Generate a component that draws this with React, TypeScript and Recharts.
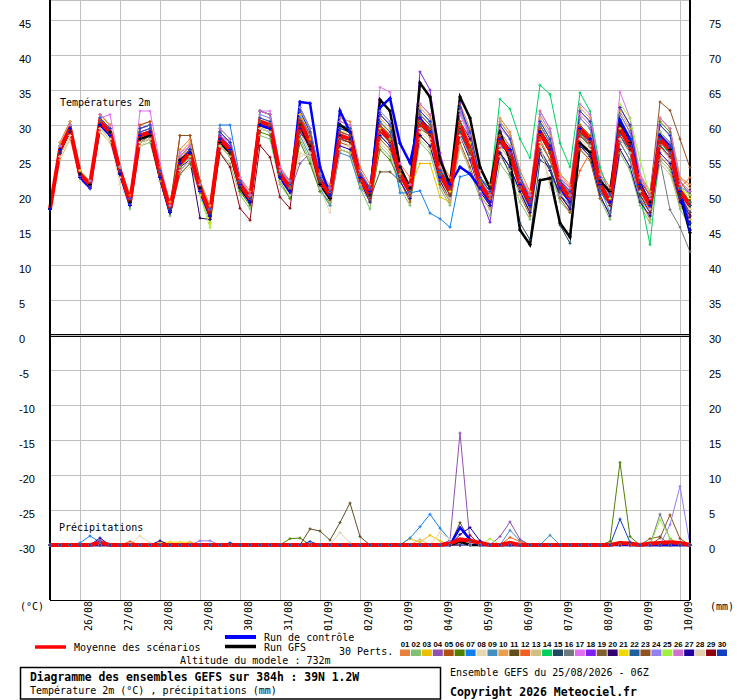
import { LineChart, Line, XAxis, YAxis, CartesianGrid, ReferenceLine } from 'recharts';

// 6-hourly steps from 25/08 06Z to 10/09 06Z (384h)
const steps = Array.from({ length: 65 }, (_, i) => i);

const dateTicks = [3, 7, 11, 15, 19, 23, 27, 31, 35, 39, 43, 47, 51, 55, 59, 63];
const dateLabels = ['26/08', '27/08', '28/08', '29/08', '30/08', '31/08', '01/09', '02/09', '03/09', '04/09', '05/09', '06/09', '07/09', '08/09', '09/09', '10/09'];
const leftTicks = [-30, -25, -20, -15, -10, -5, 0, 5, 10, 15, 20, 25, 30, 35, 40, 45];
const rightTicks = [0, 5, 10, 15, 20, 25, 30, 35, 40, 45, 50, 55, 60, 65, 70, 75];

const pertCodes = ['01', '02', '03', '04', '05', '06', '07', '08', '09', '10', '11', '12', '13', '14', '15', '16', '17', '18', '19', '20', '21', '22', '23', '24', '25', '26', '27', '28', '29', '30'];
const pertColors = ['#e8803a', '#80c070', '#e8c000', '#9050b0', '#b05010', '#508000', '#1080f0', '#e8d8b0', '#4090c0', '#e8a050', '#605020', '#f06020', '#d0c080', '#00d060', '#204860', '#707880', '#e070f0', '#8020f0', '#806030', '#300070', '#f0d800', '#2060a0', '#905020', '#9080f0', '#a0f040', '#d070d0', '#2000a0', '#e0d0b0', '#900010', '#1040c0'];

// temperature 2m (°C)
const t01 = [18,27,30,23, 22,31.5,30,24, 20,30,30.5,24, 19,26.5,28,22, 18.5,29.5,28,22.5, 20.5,32,31.5,24, 22,32.5,29.5,23, 21.5,31,30.5,24, 21.5,31.5,30,24.5, 22.5,33,31.5,25, 22.5,33,29.5,23.5, 21.5,31,29,23.5, 20.5,32,29.5,23, 21.5,32,30.5,23.5, 21,32.5,30,23, 20.5,31,29.5,22.5, 21.5];
const t02 = [18,26,29,23, 21,29.5,28,23, 18,27,27.5,22, 17,23,24.5,20, 16,26,24.5,20, 18,28.5,28,21.5, 19.5,28,25,20.5, 18.5,26.5,26,21, 18,27,25.5,21, 18.5,27.5,26,21, 18.5,27,23.5,19.5, 17,24.5,22.5,19, 16.5,26,23.5,19, 17.5,26.5,25,19.5, 16.5,26,23.5,18.5, 16,25,23.5,18, 15.5];
const t03 = [18,26.5,29.5,23, 21.5,30,28.5,23.5, 19,28,28.5,23, 18.5,25,27,21.5, 17,27,26,21, 19,30,29.5,23, 21,31,28,22.5, 20.5,29,29,23, 20.5,30.5,28.5,23.5, 21,24.5,24.5,19.7, 19,29,26,21.5, 20,28.5,27,22.5, 19.5,30,27.5,22, 20,30,28,21.5, 19,29,27,21.5, 18.5,27,25.5,20, 18];
const t04 = [18,26,29,23, 21.5,30,29,23.5, 19,28.5,28.5,22.5, 18,24,25.5,20.5, 17,27.5,26,21.5, 19.5,30,29.5,22.5, 20.5,24.5,26,21.5, 20,28,27.5,22, 19.5,29,28,23, 20,31,29.5,23.5, 20,29.5,25,20.5, 18.5,27,26,22.5, 20,30,27.5,22, 19.5,29,27,21, 18.5,29.5,27.5,21.5, 18,27,25,19.5, 17.5];
const t05 = [18,27.5,30.5,23, 22,31.5,30,24, 19.5,30,30.5,23.5, 18,28.5,28.5,21, 18,29,27.5,22, 20,32,31.5,23.5, 21,30.5,27.5,22, 19,27.5,27,21.5, 19,28,26.5,22, 19,28.5,27,21.5, 19,27.5,24,20, 18,26,24,20, 17,26.5,24,19.5, 17.5,26.5,25,19.5, 17.5,27.5,25,19.5, 16.5,25.5,24,18.5, 16.5];
const t06 = [18,26.5,29.5,23, 21.5,30.5,29,23.5, 18.5,28,28.5,22.5, 17.5,24.5,26,20.5, 16.5,27,25.5,20.5, 18.5,29,28.5,22, 19.5,27.5,24.5,20.5, 19,26.5,26,21.5, 19,26.5,25,22, 19.5,28.5,27,22, 20,29,25.5,21, 19.5,28,26,21.5, 19.5,30,27.5,22, 20.5,31,29.5,22.5, 20,31.5,29,22, 20,30.5,29,22, 20];
const t07 = [18,26,29,23, 21,30,29,23, 18.5,28,28.5,23, 18,25,26.5,21, 17.5,30,30,22.5, 19.5,29.5,29,22.5, 20.5,31,28.5,22, 19.5,28,28,22.5, 20,29.5,27.5,20.3, 20.3,20.6,17.4,16.6, 15.4,22.6,23,21, 19.5,27,26,21.5, 19,28.5,26,21, 19.5,29,27.5,22, 19.5,29.5,27,21, 18.5,28,27,21, 19];
const t08 = [18,25.5,28.5,22, 21,29,28,21.5, 18.5,27,28,22.5, 17.5,23,24,20, 17,27,26,21, 19,29.5,29.5,22.5, 20.5,25.5,26,21, 17.5,27,27,22, 19.5,28.5,27,22.5, 20,29,27.5,22, 19.5,28.5,25,21, 19,26.5,24,20, 18.5,27,22,21, 19,28,26.5,21, 18.5,28,26,20.5, 18,27,25,20, 18];
const t09 = [18,27,30,23, 21.5,31,29.5,23.5, 19.5,29.5,30,23.5, 18.5,25.5,27,21.5, 17.5,28.5,27,21.5, 19,29.5,29,22.5, 20,28.5,25.5,21, 18.5,26,25.5,21, 19.5,28.5,27,22.5, 21,31.5,30,23.5, 21.5,32,28.5,22.5, 21,30.5,28.5,23, 19.5,30,27.5,22, 19,28.5,27,21, 17.5,27.5,25,19.5, 17.5,27,25.5,19.5, 17.5];
const t10 = [18,27.5,30.5,23.5, 22,31.5,30,24, 19.5,29.5,30,23.5, 19,26,27.5,22, 18.5,29,27.5,22.5, 20,31,30.5,23.5, 21.5,31.5,28.5,22.5, 21,30.5,30,23.5, 21,31,29.5,24, 21.5,32.5,31,24, 21.5,32,28.5,22.5, 20.5,30.5,28.5,22.5, 20.5,31,28.5,23, 21,32.5,31,23, 20.5,32,29.5,22.5, 20.5,31,29.5,22.5, 21];
const t11 = [18,26,29,23, 21.5,30,28.5,23, 18.5,27.5,28.5,22.5, 17.5,24,25.5,21, 17,27.5,26,21.5, 19.5,30,29.5,22.5, 20.5,30,27,21.5, 19.5,28,27.5,22, 19.5,23.3,23.3,22, 19.5,29.5,28.5,22.5, 20,29,25.5,21, 19,27.5,25.5,21, 18.5,28.5,26,21, 19,28.5,27,21, 18.5,28.5,26.5,20.5, 18,27.5,26,20, 17.5];
const t12 = [18,26.5,29.5,23, 21.5,30.5,29,23.5, 19,28.5,29,23, 18.5,25,26.5,21.5, 18,28,26.5,21.5, 19.5,30.5,30,23.5, 21,30,27.5,22, 20,28.5,28,22.5, 20,29.5,28,23, 20.5,30.5,29,23, 20.5,30,26.5,21.5, 19.5,28,26,21.5, 18,28,25,21, 18.5,23.5,26,21, 19,29,27,21, 19,28,26,21, 22.5];
const t13 = [18,25,28,22.5, 21,29,27.5,23, 18.5,27.5,28,22.5, 17.5,23.5,25,20.5, 17,27,25.5,21, 19,29.5,29,22.5, 20.5,29,26,21.5, 19,26.5,26,21.5, 19,27.5,26,22, 19.5,28,26.5,22, 19,27,23.5,20, 18,25.5,23.5,20, 17.5,26,23.5,20, 18,27,25.5,20, 17,26.5,24,19, 16.5,24.5,23,18.5, 16.5];
const t14 = [18,26.5,29.5,23.5, 21.5,30.5,29,23.5, 19,28.5,29,23, 18,24.5,26,21, 17.5,28,26.5,21.5, 19.5,30.5,30,23, 21,30.5,27.5,22, 20,28.5,28,22.5, 20,29.5,28,23, 20.5,30.5,29,23, 20.5,30,26.5,22.5, 21,33.7,32.3,28, 25.3,35.7,34.4,27.4, 24,34.6,32,24, 20,30,28,20, 12.9,27,26,21, 19];
const t15 = [18,26.5,29,23, 21.5,30,29,23.5, 19,28.5,29,23, 18,24.5,26,21, 17.5,28,26.5,21.5, 19.5,30,29.5,23, 21,30.5,27.5,22, 20,28.5,28,22.5, 20,29.5,28,23, 20.5,30,28.5,22.5, 20,29,25.5,21, 19,26,23,16, 13.6,25,24,15.7, 13.1,27,26,21, 19,29,27,21, 18.5,28,26.5,20.5, 18.5];
const t16 = [18,26.5,29.5,23, 21.5,30.5,29,23.5, 19,28.5,29,23, 18,25,26,21, 17.5,28,26.5,21.5, 19.5,30.5,30,23, 21,30.5,27,22, 20,28,27.5,22, 20,29,27.5,22.5, 20.5,30,28.5,23, 20.5,29.5,26,21, 19,27.5,25.5,21, 18.5,28.5,26,21, 19,29,27,21, 18.5,28.5,26,20, 18,25,17.9,15.4, 11.9];
const t17 = [18,27,30,23.5, 21.5,31,31.5,24, 19.5,32,32,24.5, 18.5,26,27,21.5, 18,28.5,27.5,22.5, 20,32,32,24, 21.5,31.5,28.5,22.5, 20.5,29.5,29,23, 20.5,35.4,34.7,24.5, 21,32,30.5,24, 21,31.5,28,22.5, 20.5,29.5,28,22.5, 20,30.5,28,22.5, 20.5,31.5,30,22.5, 20,34.7,31,23, 19.5,30,28.5,21.5, 20];
const t18 = [18,26.5,29.5,23, 21.5,30.5,29.5,23.5, 19,29,29.5,23, 18,25,26.5,21, 17.5,28.5,27,22, 19.5,30.5,30,23, 21,30.5,27.5,22, 20,29,28.5,22.5, 20,30,28.5,23.5, 21,37.6,35,26, 21,33.1,28,20, 16.1,27,26,21.5, 19,29,26.5,21.5, 19.5,29.5,28,21.5, 19,29.5,27,21, 18,28,26,20, 17];
const t19 = [18,26.5,29.5,23, 21.5,30,28.5,23.5, 18.5,27.5,28,22.5, 17.5,23,24.5,20.5, 17.5,27.5,26,21.5, 19.5,30.5,30,23, 21.5,31.5,28.5,22.5, 21,30,29.5,23.5, 21,31.5,30,24, 21,31.5,30,23.5, 20.5,30,26.5,21.5, 19,27,25,21, 18,27.5,25,20.5, 19,28.5,27,21, 19,29.5,27,21, 19,29,27.5,21, 19];
const t20 = [18,26.5,29,23, 21.5,30,29,23.5, 19,28,28.5,22.5, 17.5,24,25,16.7, 16.5,27,26,21, 19,30,29.5,22.5, 20.5,30.5,27.5,22, 20,28.5,28,22.5, 20,29.5,28,23, 20.5,31,29.5,24, 21,30.5,28,22.5, 19,27.5,26.5,22, 18.5,29,26.5,20, 18,29.5,28,21.5, 19,29.5,27,21, 18.5,28.5,26.5,21, 18.5];
const t21 = [18,27,30,23.5, 21.5,31,30,24, 19,28.5,29,23, 17.5,25.5,27,21.5, 16,27.5,26,21.5, 19.5,30,29.5,23, 21,31.5,29,23, 20.5,29.5,29,23, 20,29.5,28,23, 20.5,30.5,29.5,24, 20.5,30.5,27.5,22, 20,29,27,22.5, 19.5,29.5,27,22, 20,30,28.5,22, 19.5,29.5,27.5,21.5, 19,28.5,27,21, 19.5];
const t22 = [18,26.5,29.5,23, 21.5,30.5,29,23.5, 19,29,29.5,23, 18.5,25,26.5,21.5, 18,29,27.5,22, 20,32,31.5,23.5, 22,32.5,29.5,23, 21,30,29.5,23.5, 20.5,30.5,29,23.5, 20.5,30.5,29,23, 20,29,25.5,21, 18.5,26,24,20.5, 17.5,26.5,24,20, 18.5,27.5,26,20.5, 18.5,28.5,26,20.5, 18.5,28,26.5,20.5, 18.5];
const t23 = [18,26,29,23, 21.5,30.5,29,23.5, 19,28.5,29,23, 18.5,28.5,28.5,22, 17.5,28,26.5,21.5, 19.5,30.5,30,23, 21,30.5,27.5,22, 20,29,28.5,23, 20.5,30,28.5,23.5, 21,31,29.5,23.5, 21,30.5,27,22, 20,28.5,26.5,22, 19.5,29.5,27,22, 20,30,28.5,22, 19.5,30,27.5,22, 20,33.3,32.1,28, 23.9];
const t24 = [18,27,30,23, 22,31,29.5,24, 19.5,29.5,30,23.5, 18.5,25.5,27,21.5, 18,29.5,28,22, 20,31.5,31,23.5, 22,32.5,29.5,23, 20.5,29.5,29,23, 21,32,30.5,24, 21,32,30.5,23.5, 21.5,32,28.5,22.5, 20,29,27,22, 20,31.5,29,22.5, 20,31,29.5,22, 20,31.5,29,22, 19,29,27.5,21, 20.5];
const t25 = [18,26.5,29.5,23, 21.5,30,29,23, 18.5,28,28.5,22.5, 17.5,24,25.5,20, 15.3,27,26,21, 19,30,29.5,22.5, 20.5,30,27,21.5, 19.5,28,27.5,22, 19.5,29,27.5,22.5, 20,30,28.5,22.5, 20,29.5,26,21, 19,27.5,25.5,21, 18.5,28.5,26,21, 19,29,27.5,21.5, 19.5,33,31,25, 20,29,27,21, 20];
const t26 = [18,27,30,23, 21.5,31.5,30,23.5, 19.5,29.5,30,23.5, 18.5,25.5,27,21.5, 18,29,27.5,22, 20,32,31.5,23.5, 21.5,32,29,22.5, 21,30.5,30,23.5, 21,31.5,30,24, 21.5,33,31.5,24, 21.5,32.5,29,22.5, 20.5,30,28,22.5, 20,32,29.5,22.5, 21,33,31.5,23, 20.5,32.5,30,22.5, 20,31,29.5,22, 20.5];
const t27 = [18,26,29,22.5, 21,30,28.5,23, 18.5,28,28.5,22.5, 17.5,23.5,25,20.5, 17,27.5,26,21, 19,30,29.5,22.5, 20.5,29.5,26.5,21.5, 19.5,27,26.5,22, 19,28.5,27,22, 19.5,28.5,27,22, 19.5,28.5,25,20.5, 18.5,26,24,20.5, 17.5,26,23.5,20, 18,27,25.5,20, 17,26.5,24,19, 17,26,24.5,19, 16];
const t28 = [18,25.5,28.5,22.5, 21,29.5,28,22.5, 18.5,27.5,28,22.5, 17.5,23.5,25,20.5, 17,27,26,21, 19,29.5,29,22, 20,26,25.5,21, 19.5,28,27,22, 19.5,29,27.5,22.5, 20,29.5,28,22.5, 19.5,28.5,25.5,20.5, 19,27,25,21, 18.5,27.5,21,20, 19,28,27,21, 18.5,28,26,20.5, 18,27,25.5,20, 18];
const t29 = [18,26.5,29,23, 21.5,30,29,23.5, 19,28.5,29,23, 18,24.5,26,21, 17.5,26,24,18.1, 16.4,27.1,25.4,19.7, 18.1,29,27,21.5, 19.5,28,27.5,22, 19.5,29,27.5,22.5, 20,30,28.5,22.5, 20,29.5,26,21, 19,27.5,25.5,21, 18.5,28.5,26,21, 19,29,27.5,21, 18.5,29,26.5,20, 17.5,27,25.5,19.5, 17];
const t30 = [18,26.5,29.5,23, 21.5,31,29.5,23.5, 19.5,29.5,30,23.5, 18,25,26.5,21, 18,29,27.5,22, 19.5,31,30.5,23, 21.5,32,29,22.5, 20.5,29.5,29,23, 21,31.5,30,24, 21,32,30.5,23.5, 21.5,32.5,29,22.5, 20.5,30,28,22.5, 19.5,30.5,28,22, 20.5,32,30.5,22.5, 20,32.5,30,22, 19,30,28.5,21, 16];
const tControl = [18,26.5,29.5,22.5, 21,30,28.5,23, 18.5,28.5,29,22.5, 17.5,24.5,26,20.5, 17,28,26.5,21.5, 19,30,29.5,22.5, 20.5,33.3,33.1,24, 20,32,29,22.5, 20.5,32.5,33.8,27.4, 24.6,31,29,22.5, 21.5,24,23,21, 19,28,26.5,21.5, 18.5,29,27,21, 19,29.5,28,21.5, 19,30.7,28,21.5, 18.5,28.5,27,20.5, 15];
const tGfs = [18,26.5,29.5,23, 21.5,30,29,23, 19,28,28.5,22.5, 17.5,25,26,21, 17,27.5,26,21, 19,30,29.5,22.5, 20.5,30,27,21.5, 19.5,30,29,22.5, 20,33.6,32,24, 21,36,34,25, 21.5,34,31,24, 21,29,25,15, 12.9,22.1,22.4,16, 14,27.4,26.1,22, 20.5,30,27.5,21.5, 19,28.5,26.5,20, 14.6];
const tMean = [18,26.5,29.5,23, 21.5,30.5,29,23.5, 19,28.5,29,23, 18,24.5,26,21, 17.5,28,26.5,21.5, 19.5,30.5,30,23, 21,30.5,27.5,22, 20,28.5,28,22.5, 20,29.5,28,23, 20.5,30.5,29,23, 20.5,30,26.5,21.5, 19.5,28,26,21.5, 19,29,26.5,21.5, 19.5,29.5,28,21.5, 19,29.5,27,21, 18.5,28,26.5,20.5, 18.5];

const pertTemps = [t01, t02, t03, t04, t05, t06, t07, t08, t09, t10, t11, t12, t13, t14, t15, t16, t17, t18, t19, t20, t21, t22, t23, t24, t25, t26, t27, t28, t29, t30];

// precipitation (mm) per 6h step, only the non-zero ones: [member, step, mm]
const rainEvents: [string, number, number][] = [
  ['07', 3, 0.3], ['07', 4, 1.3], ['07', 5, 0.4], ['27', 5, 1.0], ['04', 5, 0.7], ['mean', 5, 0.3],
  ['12', 8, 0.5], ['08', 9, 1.3], ['08', 10, 0.3], ['27', 11, 0.6],
  ['21', 11, 0.4], ['21', 12, 0.4], ['21', 13, 0.4], ['21', 14, 0.4], ['17', 14, 0.4],
  ['24', 15, 0.6], ['24', 16, 0.6], ['30', 18, 0.3],
  ['06', 24, 0.9], ['06', 25, 1.0], ['30', 26, 0.5],
  ['11', 26, 2.3], ['11', 27, 2.0], ['11', 28, 0.7], ['11', 29, 3.2], ['11', 30, 6.0], ['11', 31, 1.2],
  ['28', 29, 1.8], ['28', 30, 0.3],
  ['07', 36, 1.0], ['07', 37, 2.6], ['07', 38, 4.4], ['07', 39, 2.4], ['07', 40, 0.7],
  ['03', 36, 0.9], ['03', 37, 0.4], ['03', 38, 1.4], ['03', 39, 0.6], ['13', 37, 0.8],
  ['08', 39, 1.8], ['08', 40, 0.8],
  ['04', 40, 0.7], ['04', 41, 16], ['04', 42, 0.5], ['04', 45, 1.2], ['04', 46, 3.3], ['04', 47, 0.8],
  ['11', 41, 3.2], ['11', 42, 0.6], ['27', 41, 1.5], ['27', 42, 2.5], ['27', 43, 0.6],
  ['ctl', 41, 2.5], ['ctl', 42, 0.8], ['gfs', 41, 0.5], ['29', 42, 1.4],
  ['mean', 40, 0.2], ['mean', 41, 0.8], ['mean', 42, 0.6], ['mean', 43, 0.3], ['mean', 46, 0.3],
  ['25', 44, 0.9], ['09', 46, 2.1], ['09', 47, 0.6], ['09', 50, 1.4], ['12', 46, 1.1], ['12', 47, 0.5],
  ['06', 56, 0.5], ['06', 57, 11.8], ['06', 58, 1.2], ['30', 57, 3.7], ['30', 58, 0.4], ['gfs', 57, 0.3],
  ['mean', 57, 0.3], ['mean', 58, 0.2], ['mean', 60, 0.2], ['mean', 61, 0.3], ['mean', 62, 0.4], ['mean', 63, 0.3],
  ['19', 60, 0.9], ['19', 61, 1.2], ['23', 61, 1.0], ['23', 62, 4.3], ['23', 63, 0.9],
  ['16', 61, 4.4], ['16', 62, 0.9], ['25', 61, 3.6], ['25', 62, 1.0], ['24', 62, 2.9], ['24', 63, 8.4],
];

const rows = steps.map((i) => {
  const row: Record<string, number> = { i, tCtl: tControl[i], tGfs: tGfs[i], tMean: tMean[i], rCtl: 0, rGfs: 0, rMean: 0 };
  pertCodes.forEach((c, k) => {
    row[`t${c}`] = pertTemps[k][i];
    row[`r${c}`] = 0;
  });
  return row;
});
rainEvents.forEach(([m, i, mm]) => {
  const key = m === 'ctl' ? 'rCtl' : m === 'gfs' ? 'rGfs' : m === 'mean' ? 'rMean' : `r${m}`;
  rows[i][key] = mm;
});

const mono = '"DejaVu Sans Mono", monospace';
const sans = '"Liberation Sans", Arial, sans-serif';

function crossDot(color: string, arm: number) {
  return (props: any) => {
    const { cx, cy, index } = props;
    if (cx == null || cy == null) return <g key={`c${index}`} />;
    return (
      <path
        key={`c${index}`}
        d={`M${cx - arm},${cy}H${cx + arm}M${cx},${cy - arm}V${cy + arm}`}
        stroke={color}
        strokeWidth={1}
        fill="none"
      />
    );
  };
}

const LeftTick = (props: any) => (
  <text x={19} y={props.y + 8} fontSize={11} fontFamily={sans} fill="#000">
    {props.payload.value}
  </text>
);

const RightTick = (props: any) => (
  <text x={709} y={props.y + 8} fontSize={11} fontFamily={sans} fill="#000">
    {props.payload.value}
  </text>
);

const DateTick = (props: any) => (
  <text transform={`translate(${props.x + 11.5},631) rotate(-90)`} fontSize={10} fontFamily={mono} fill="#000">
    {dateLabels[dateTicks.indexOf(props.payload.value)]}
  </text>
);

export default function App() {
  return (
    <div style={{ position: 'absolute', left: 0, top: 0, width: 740, height: 700, background: '#fff' }}>
      <style>{`.recharts-cartesian-grid line, .recharts-reference-line line, .recharts-cartesian-axis-line { shape-rendering: crispEdges; }`}</style>
      <LineChart width={740} height={700} data={rows} margin={{ top: 0, right: 0, bottom: 70, left: 0 }}>
        <CartesianGrid yAxisId="left" stroke="#c0c0c0" strokeWidth={1} />
        <XAxis
          dataKey="i"
          type="number"
          domain={[0, 64]}
          ticks={dateTicks}
          interval={0}
          height={30}
          axisLine={{ stroke: '#000', strokeWidth: 1 }}
          tickLine={false}
          tick={<DateTick />}
        />
        <YAxis
          yAxisId="left"
          type="number"
          domain={[-37.857142857, 47.857142857]}
          ticks={leftTicks}
          interval={0}
          width={50}
          axisLine={{ stroke: '#000', strokeWidth: 2 }}
          tickLine={false}
          tick={<LeftTick />}
          allowDataOverflow
        />
        <YAxis
          yAxisId="right"
          orientation="right"
          type="number"
          domain={[-7.857142857, 77.857142857]}
          ticks={rightTicks}
          interval={0}
          width={50}
          axisLine={{ stroke: '#000', strokeWidth: 1.5 }}
          tickLine={false}
          tick={<RightTick />}
          allowDataOverflow
        />
        <ReferenceLine yAxisId="left" y={0.5 / 7} stroke="#000" strokeWidth={1} />
        <ReferenceLine yAxisId="left" y={-1.5 / 7} stroke="#000" strokeWidth={1} />

        {pertCodes.map((c, k) => (
          <Line
            key={`r${c}`}
            yAxisId="right"
            type="linear"
            dataKey={`r${c}`}
            stroke={pertColors[k]}
            strokeWidth={1}
            dot={crossDot(pertColors[k], 1.5)}
            activeDot={false}
            isAnimationActive={false}
          />
        ))}
        <Line yAxisId="right" type="linear" dataKey="rGfs" stroke="#000" strokeWidth={2.5} dot={false} activeDot={false} isAnimationActive={false} />
        <Line yAxisId="right" type="linear" dataKey="rCtl" stroke="#0000ff" strokeWidth={2.5} dot={false} activeDot={false} isAnimationActive={false} />
        <Line yAxisId="right" type="linear" dataKey="rMean" stroke="#ff0000" strokeWidth={4} dot={false} activeDot={false} isAnimationActive={false} />

        {pertCodes.map((c, k) => (
          <Line
            key={`t${c}`}
            yAxisId="left"
            type="linear"
            dataKey={`t${c}`}
            stroke={pertColors[k]}
            strokeWidth={1}
            dot={crossDot(pertColors[k], 1.5)}
            activeDot={false}
            isAnimationActive={false}
          />
        ))}
        <Line yAxisId="left" type="linear" dataKey="tGfs" stroke="#000" strokeWidth={2.5} dot={crossDot('#000', 2)} activeDot={false} isAnimationActive={false} />
        <Line yAxisId="left" type="linear" dataKey="tCtl" stroke="#0000ff" strokeWidth={2.5} dot={crossDot('#0000ff', 2)} activeDot={false} isAnimationActive={false} />
        <Line yAxisId="left" type="linear" dataKey="tMean" stroke="#ff0000" strokeWidth={4} dot={false} activeDot={false} isAnimationActive={false} />
      </LineChart>

      <svg width={740} height={700} style={{ position: 'absolute', left: 0, top: 0, pointerEvents: 'none' }}>
        <g fontFamily={mono} fontSize={10} fill="#000">
          <text x={60} y={106}>Températures 2m</text>
          <text x={59} y={531}>Précipitations</text>
          <text x={20} y={610}>(°C)</text>
          <text x={710} y={610}>(mm)</text>

          <line x1={35} x2={66} y1={647} y2={647} stroke="#ff0000" strokeWidth={3.5} />
          <text x={74} y={651}>Moyenne des scénarios</text>
          <line x1={225} x2={256} y1={637} y2={637} stroke="#0000ff" strokeWidth={4} />
          <text x={264} y={641}>Run de contrôle</text>
          <line x1={225} x2={256} y1={646.5} y2={646.5} stroke="#000" strokeWidth={3.5} />
          <text x={264} y={651}>Run GFS</text>
          <text x={339} y={655}>30 Perts.</text>
          <text x={180} y={664}>Altitude du modele : 732m</text>

          {pertCodes.map((c, k) => (
            <g key={`sw${c}`}>
              <text x={400 + k * 10.93 + 5} y={647} textAnchor="middle" fontFamily={sans} fontWeight="bold" fontSize={7.8}>
                {c}
              </text>
              <rect x={400 + k * 10.93} y={649.5} width={10} height={6.5} fill={pertColors[k]} />
            </g>
          ))}

          <rect x={20.5} y={667.5} width={420} height={31.5} fill="none" stroke="#000" strokeWidth={1.5} />
          <text x={30} y={681} fontWeight="bold" fontSize={11.4}>Diagramme des ensembles GEFS sur 384h : 39N 1.2W</text>
          <text x={30} y={693.5}>Température 2m (°C) , précipitations (mm)</text>
          <text x={450} y={676}>Ensemble GEFS du 25/08/2026 - 06Z</text>
          <text x={450} y={695.5} fontWeight="bold" fontSize={11.5}>Copyright 2026 Meteociel.fr</text>
        </g>
      </svg>
    </div>
  );
}
